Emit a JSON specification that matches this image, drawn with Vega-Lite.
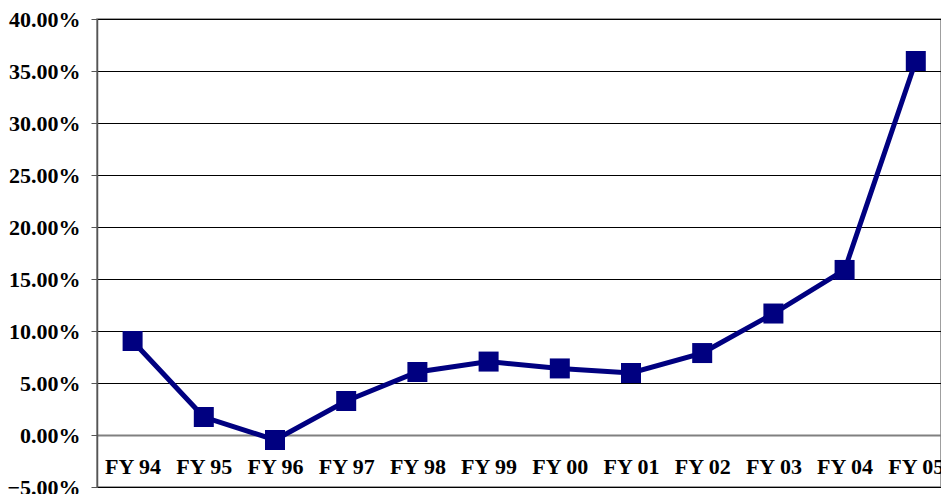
{
  "$schema": "https://vega.github.io/schema/vega-lite/v6.json",
  "autosize": "none",
  "width": 844,
  "height": 468,
  "padding": {"left": 97, "top": 19, "right": 0, "bottom": 7},
  "background": "white",
  "config": {
    "view": {"stroke": "#808080", "strokeWidth": 1.5},
    "font": "Liberation Serif"
  },
  "data": {
    "values": [
      {"year": "FY 94", "growth": 0.0904},
      {"year": "FY 95", "growth": 0.0173},
      {"year": "FY 96", "growth": -0.0048},
      {"year": "FY 97", "growth": 0.0327},
      {"year": "FY 98", "growth": 0.0606},
      {"year": "FY 99", "growth": 0.0706},
      {"year": "FY 00", "growth": 0.0640},
      {"year": "FY 01", "growth": 0.0596},
      {"year": "FY 02", "growth": 0.0788},
      {"year": "FY 03", "growth": 0.1168},
      {"year": "FY 04", "growth": 0.1587},
      {"year": "FY 05", "growth": 0.3596}
    ]
  },
  "encoding": {
    "x": {
      "field": "year",
      "type": "ordinal",
      "sort": null,
      "scale": {"type": "point", "range": [0, 854.4], "padding": 0.5},
      "axis": {
        "title": null,
        "offset": -52,
        "labelAngle": 0,
        "ticks": false,
        "domainColor": "#808080",
        "domainWidth": 2,
        "labelFont": "Liberation Serif",
        "labelFontSize": 22,
        "labelFontWeight": "bold",
        "labelColor": "#000",
        "labelPadding": 21
      }
    },
    "y": {
      "field": "growth",
      "type": "quantitative",
      "scale": {"domain": [-0.05, 0.4], "nice": false, "zero": false},
      "axis": {
        "title": null,
        "format": ".2%",
        "values": [-0.05, 0, 0.05, 0.1, 0.15, 0.2, 0.25, 0.3, 0.35, 0.4],
        "grid": true,
        "gridColor": "#000",
        "gridWidth": 1,
        "gridOpacity": 1,
        "domainColor": "#555",
        "domainWidth": 1.5,
        "tickColor": "#555",
        "tickSize": 6,
        "labelFont": "Liberation Serif",
        "labelFontSize": 22,
        "labelFontWeight": "bold",
        "labelColor": "#000",
        "labelPadding": 11
      }
    }
  },
  "layer": [
    {
      "mark": {"type": "line", "color": "#000080", "strokeWidth": 5}
    },
    {
      "mark": {"type": "point", "shape": "square", "filled": true, "color": "#000080", "opacity": 1, "size": 400}
    }
  ]
}
